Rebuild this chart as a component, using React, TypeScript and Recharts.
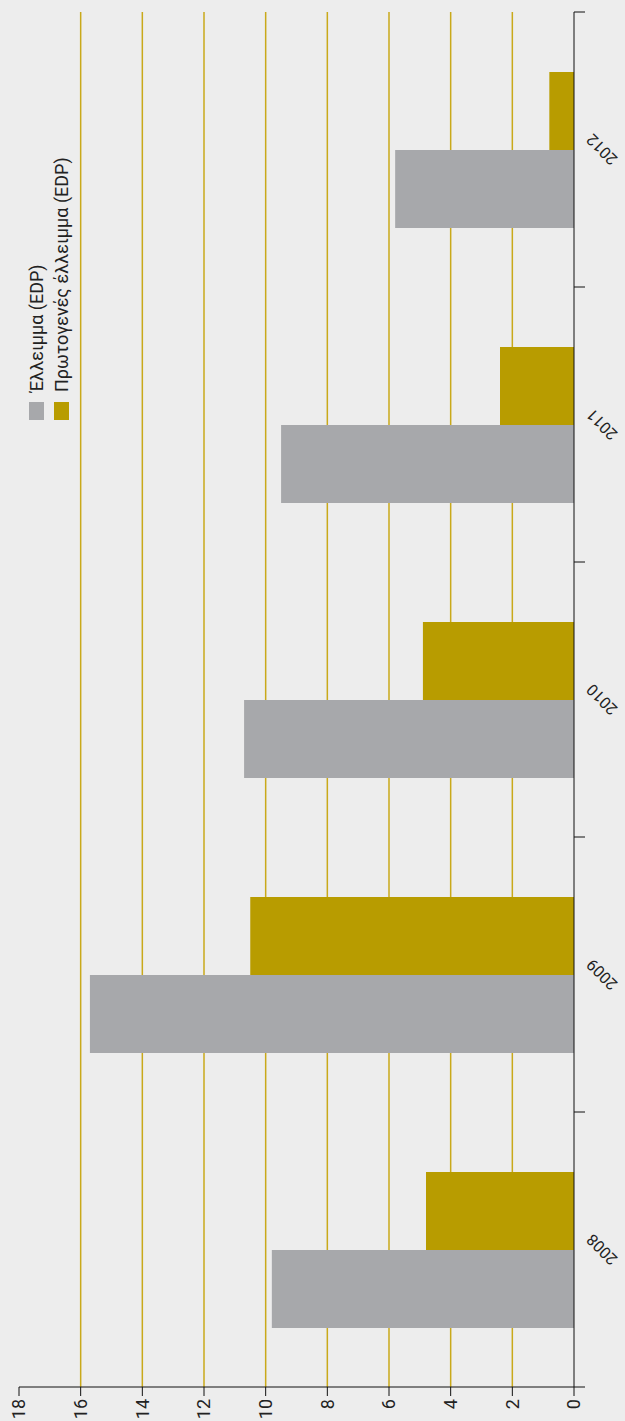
import React from "react";
import { BarChart, Bar, XAxis, YAxis, CartesianGrid } from "recharts";

// Greek general government deficit, % of GDP
const years = ["2008", "2009", "2010", "2011", "2012"];
const deficit = [9.8, 15.7, 10.7, 9.5, 5.8];
const primaryDeficit = [4.8, 10.5, 4.9, 2.4, 0.8];

const valueTicks = [0, 2, 4, 6, 8, 10, 12, 14, 16, 18];
const gridValues = [2, 4, 6, 8, 10, 12, 14, 16];
// category boundaries for the separator ticks
const edgeTicks = [0, 1, 2, 3, 4, 5];

const seriesNames = ["Έλλειμμα (EDP)", "Πρωτογενές έλλειμμα (EDP)"];
const GREY = "#a7a8ab";
const GOLD = "#b89c00";
const GRID = "#c9a91a";
const INK = "#222";
const FONT = "Roboto, 'DejaVu Sans', sans-serif";

const data = years.map((year, i) => ({
  year,
  deficit: deficit[i],
  primary: primaryDeficit[i],
}));

// chart is laid out upright, then turned a quarter to the left
const W = 1421;
const H = 625;

const YearTick = (props: any) => {
  const { x, y, payload } = props;
  const cy = y + 27;
  return (
    <text
      x={x}
      y={cy}
      transform={`rotate(-45, ${x}, ${cy})`}
      textAnchor="middle"
      dominantBaseline="central"
      fontSize={16}
      fontFamily={FONT}
      fill={INK}
    >
      {payload.value}
    </text>
  );
};

// separator ticks carry no label
const NoLabel = () => <g />;

const LegendBox = () => {
  const colors = [GREY, GOLD];
  return (
    <div
      style={{
        position: "absolute",
        top: 24,
        left: 1001,
        fontFamily: FONT,
      }}
    >
      {seriesNames.map((name, i) => (
        <div
          key={name}
          style={{ display: "flex", alignItems: "center", height: 25 }}
        >
          <span
            style={{
              width: 18,
              height: 15,
              background: colors[i],
              marginRight: 10,
              display: "inline-block",
            }}
          />
          <span style={{ fontSize: 18, color: INK, whiteSpace: "nowrap" }}>
            {name}
          </span>
        </div>
      ))}
    </div>
  );
};

export default function App() {
  return (
    <div
      style={{
        position: "absolute",
        top: 0,
        left: 0,
        width: H,
        height: W,
        background: "#ededed",
        overflow: "hidden",
      }}
    >
      <div
        style={{
          position: "relative",
          width: W,
          height: H,
          transformOrigin: "0 0",
          transform: `translateY(${W}px) rotate(-90deg)`,
        }}
      >
        <BarChart
          width={W}
          height={H}
          data={data}
          margin={{ top: 19, right: 12, bottom: 0, left: 0 }}
          barCategoryGap="21.5%"
          barGap={0}
        >
          <CartesianGrid
            xAxisId="year"
            vertical={false}
            horizontalValues={gridValues}
            stroke={GRID}
            strokeWidth={1.5}
          />
          <XAxis
            xAxisId="edges"
            type="number"
            scale="linear"
            dataKey={(d: any) => years.indexOf(d.year)}
            domain={[0, years.length]}
            allowDataOverflow
            ticks={edgeTicks}
            tick={<NoLabel />}
            interval={0}
            height={1}
            tickSize={11}
            axisLine={{ stroke: "#111" }}
            tickLine={{ stroke: "#111" }}
          />
          <XAxis
            xAxisId="year"
            dataKey="year"
            height={50}
            axisLine={false}
            tickLine={false}
            tickSize={0}
            tickMargin={0}
            tick={<YearTick />}
            interval={0}
          />
          <YAxis
            domain={[0, 18]}
            ticks={valueTicks}
            width={34}
            tickSize={9}
            tickMargin={3}
            axisLine={{ stroke: "#111" }}
            tickLine={{ stroke: "#111" }}
            tick={{ fontSize: 18, fill: INK, fontFamily: FONT }}
          />
          <Bar
            xAxisId="year"
            dataKey="deficit"
            name={seriesNames[0]}
            fill={GREY}
            isAnimationActive={false}
          />
          <Bar
            xAxisId="year"
            dataKey="primary"
            name={seriesNames[1]}
            fill={GOLD}
            isAnimationActive={false}
          />
        </BarChart>
        <LegendBox />
      </div>
    </div>
  );
}
